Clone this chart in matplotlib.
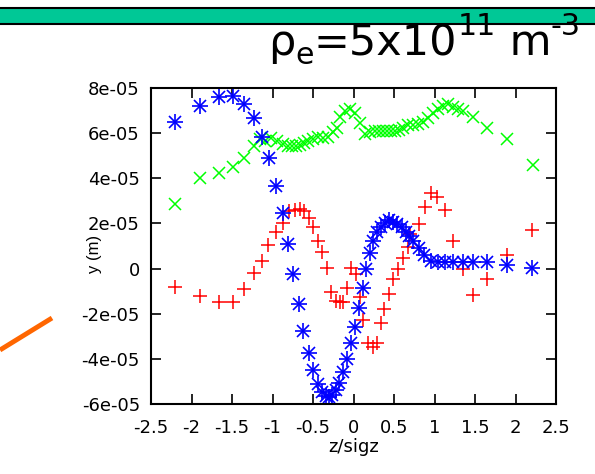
import numpy as np
import matplotlib
matplotlib.use("Agg")
import matplotlib.pyplot as plt
from matplotlib.patches import Rectangle
from matplotlib.lines import Line2D

plt.rcParams['font.family'] = ['DejaVu Sans']

# --- data (y in units of 1e-5 m) ---
blue_z = [-2.20, -1.89, -1.66, -1.49, -1.35, -1.23, -1.13, -1.04, -0.96, -0.87,
          -0.81, -0.75, -0.67, -0.62, -0.55, -0.50, -0.44, -0.39, -0.34, -0.30,
          -0.26, -0.22, -0.18, -0.13, -0.08, -0.03, 0.02, 0.07, 0.12, 0.16,
          0.20, 0.24, 0.29, 0.34, 0.39, 0.44, 0.49, 0.54, 0.60, 0.65,
          0.69, 0.74, 0.81, 0.87, 0.96, 1.04, 1.13, 1.23, 1.35, 1.48,
          1.65, 1.90, 2.20]
blue_y = [6.51, 7.22, 7.62, 7.66, 7.31, 6.69, 5.85, 4.92, 3.68, 2.48,
          1.11, -0.25, -1.55, -2.75, -3.72, -4.50, -5.10, -5.47, -5.65, -5.70,
          -5.58, -5.36, -5.05, -4.58, -3.99, -3.30, -2.57, -1.73, -0.88, -0.04,
          0.71, 1.20, 1.64, 1.86, 2.04, 2.13, 2.08, 1.99, 1.82, 1.64,
          1.46, 1.20, 0.93, 0.58, 0.35, 0.27, 0.27, 0.27, 0.31, 0.31,
          0.31, 0.18, 0.04]

green_z = [-2.20, -1.89, -1.66, -1.49, -1.35, -1.23, -1.15, -1.09, -1.02, -0.94,
           -0.87, -0.81, -0.76, -0.71, -0.66, -0.61, -0.56, -0.50, -0.44, -0.38,
           -0.31, -0.25, -0.20, -0.17, -0.10, -0.04, 0.02, 0.08, 0.14, 0.20,
           0.27, 0.31, 0.36, 0.41, 0.46, 0.51, 0.56, 0.61, 0.67, 0.73,
           0.80, 0.86, 0.92, 0.98, 1.04, 1.10, 1.17, 1.23, 1.29, 1.35,
           1.48, 1.65, 1.89, 2.21]
green_y = [2.84, 4.03, 4.25, 4.52, 4.92, 5.41, 5.72, 5.63, 5.80, 5.67,
           5.54, 5.41, 5.41, 5.45, 5.49, 5.58, 5.63, 5.76, 5.85, 5.80,
           5.85, 6.07, 6.25, 6.73, 6.96, 7.09, 6.91, 6.47, 5.94, 6.07,
           6.11, 6.11, 6.11, 6.11, 6.11, 6.11, 6.16, 6.25, 6.34, 6.38,
           6.42, 6.51, 6.69, 6.91, 7.09, 7.22, 7.27, 7.18, 7.09, 6.96,
           6.73, 6.25, 5.72, 4.57]

red_z = [-2.20, -1.89, -1.66, -1.49, -1.35, -1.23, -1.13, -1.05, -0.96, -0.87,
         -0.80, -0.72, -0.66, -0.61, -0.55, -0.50, -0.44, -0.39, -0.33, -0.28,
         -0.22, -0.17, -0.13, -0.08, -0.03, 0.03, 0.08, 0.12, 0.18, 0.24,
         0.29, 0.34, 0.38, 0.44, 0.49, 0.55, 0.61, 0.67, 0.70, 0.81,
         0.88, 0.96, 1.03, 1.13, 1.23, 1.35, 1.48, 1.65, 1.89, 2.20]
red_y = [-0.80, -1.20, -1.46, -1.46, -0.89, -0.18, 0.35, 1.04, 1.64, 2.04,
         2.53, 2.61, 2.66, 2.57, 2.22, 1.86, 1.24, 0.75, 0.04, -1.02,
         -1.42, -1.46, -1.46, -0.84, 0.04, -0.22, -1.28, -2.30, -3.28, -3.46,
         -3.28, -2.39, -1.77, -1.11, -0.44, 0.00, 0.49, 0.97, 1.51, 1.99,
         2.75, 3.37, 3.19, 2.61, 1.20, 0.00, -1.15, -0.44, 0.58, 1.73]

xticks = [-2.5, -2, -1.5, -1, -0.5, 0, 0.5, 1, 1.5, 2, 2.5]
yticks = [-6e-05, -4e-05, -2e-05, 0, 2e-05, 4e-05, 6e-05, 8e-05]
ytick_labels = ['-6e-05', '-4e-05', '-2e-05', '0', '2e-05', '4e-05', '6e-05', '8e-05']

# title pieces: (text, size scale, vertical shift in px)
title_parts = [('ρ', 1.0, 0), ('e', 0.7, -9), ('=5x10', 1.0, 0),
               ('11', 0.7, 20), (' m', 1.0, 0), ('-3', 0.7, 20)]

W, H = 595, 474
fig = plt.figure(figsize=(W / 100, H / 100), dpi=100)

# green banner at the top
fig.patches.append(Rectangle((-0.05, 1 - 23.5 / H), 1.1, 15.5 / H, transform=fig.transFigure,
                             facecolor='#00C896', edgecolor='black', linewidth=1.5, zorder=0))
# orange stroke on the left
fig.add_artist(Line2D([0.0, 52 / W], [1 - 350 / H, 1 - 318 / H], transform=fig.transFigure,
                      color='#FF6600', linewidth=3.5, solid_capstyle='butt'))

# title, laid out piece by piece so the exponent keeps a plain hyphen
renderer = fig.canvas.get_renderer()
x_px = 268
base_px = 55
size = 31
for txt, sc, dy in title_parts:
    t = fig.text(x_px / W, 1 - (base_px - dy) / H, txt, fontsize=size * sc,
                 va='baseline', ha='left', zorder=5)
    x_px += t.get_window_extent(renderer).width

ax = fig.add_axes([151 / W, 1 - 404 / H, 405 / W, 316 / H])

s = 1e-5
ax.plot(np.array(green_z), np.array(green_y) * s, 'x', color='#00FF00', ms=9, mew=1.1)
ax.plot(np.array(red_z), np.array(red_y) * s, '+', color='#FF0000', ms=10, mew=1.1)
ax.plot(np.array(blue_z), np.array(blue_y) * s, '+', color='#0000FF', ms=11, mew=1.2)
ax.plot(np.array(blue_z), np.array(blue_y) * s, 'x', color='#0000FF', ms=8, mew=1.2)

ax.set_xlim(-2.5, 2.5)
ax.set_ylim(-6e-05, 8e-05)
ax.set_xticks(xticks)
ax.set_xticklabels(['%g' % t for t in xticks])
ax.set_yticks(yticks)
ax.set_yticklabels(ytick_labels)

ax.tick_params(direction='in', length=7, width=1.2, labelsize=13,
               top=True, right=True)
ax.tick_params(axis='y', pad=8)
ax.tick_params(axis='x', pad=11)
for sp in ax.spines.values():
    sp.set_linewidth(1.5)

ax.set_xlabel('z/sigz', fontsize=13)
ax.xaxis.set_label_coords(0.5, -0.108)
ax.set_ylabel('y (m)', fontsize=12, family='Liberation Sans')
ax.yaxis.set_label_coords(-0.12, 0.475)

fig.savefig('out.png', dpi=100)
